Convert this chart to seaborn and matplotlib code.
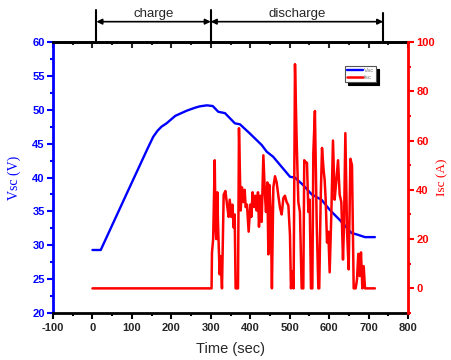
import matplotlib
matplotlib.use("Agg")
import matplotlib.pyplot as plt
import seaborn as sns
import pandas as pd
from matplotlib.ticker import MultipleLocator

# ---- data ----
t_v = [0, 21, 86.7, 140, 154, 165, 175, 188, 210, 239, 260, 272, 290, 305, 319, 336,
       361, 374, 399, 429, 442, 458, 501, 513, 534, 556, 581, 602, 627.5, 657, 670, 691, 716]
v_sc = [29.3, 29.3, 37.6, 44.3, 46.0, 46.9, 47.5, 48.0, 49.1, 49.86, 50.3, 50.5, 50.65, 50.55,
        49.7, 49.5, 48.0, 47.85, 46.5, 44.8, 43.8, 43.07, 40.1, 40.0, 38.9, 37.5, 36.7, 35.2,
        33.7, 31.8, 31.6, 31.2, 31.2]

t_i = [0, 302, 303, 306, 310, 312, 314, 316.6, 318, 320, 322.5, 325, 328.4, 332.7, 337,
       342, 345.3, 348, 352, 354.7, 358, 360.6, 363, 369, 371.5, 375.8, 379, 382.6, 386,
       388.4, 391.8, 396, 400.3, 402.9, 406, 409.6, 413, 416.3, 419.7, 422.2, 425.7, 429,
       433.3, 437.4, 440, 443.4, 446, 448.5, 451.8, 455, 458.6, 462.8, 467, 471.3, 475.5,
       479.7, 484, 488, 492.4, 496.7, 500.8, 503.3, 506.8, 510, 513.5, 517.7, 522, 526,
       530.4, 534.6, 537, 540.6, 543.9, 547.4, 550.7, 554, 557.5, 560, 564, 568.5, 572.7,
       575, 578.6, 582, 586, 588.7, 591.3, 594.7, 598, 601.4, 605.6, 609.8, 614, 618.4,
       622.6, 626.8, 631, 635.2, 637.7, 641.2, 645.5, 649.6, 654, 658, 662.3, 667.3, 670.7,
       674, 677.5, 680.8, 684.3, 687.6, 691, 716]
i_sc = [0, 0, 14.5, 20, 52, 25, 20, 39, 28, 18, 5.7, 13, 0, 38, 39.5,
        33, 29, 36, 29, 34, 24.7, 30, 0, 0, 65, 31.6, 41, 35, 40,
        33, 34, 23, 34, 29, 39, 33, 37.6, 31.6, 39, 25, 37.6, 27,
        54, 37.6, 31, 43, 13.8, 42, 32, 0, 41, 45.5, 43, 37.6, 32.7,
        30, 36.6, 37.6, 35, 33.7, 21.6, 0, 7, 0, 91, 60, 35, 31,
        0, 0, 52, 51, 51, 31, 36, 0, 0, 55, 72, 27, 0,
        0, 36, 57, 48, 44, 36, 18.6, 23, 6.5, 30, 60, 36, 44,
        52, 38, 35, 11.7, 25, 63, 23, 7.7, 52.6, 50, 0, 0, 3.6,
        14, 5, 14.6, 0, 9, 0, 0]

x_ticks = [-100, 0, 100, 200, 300, 400, 500, 600, 700, 800]
v_ticks = [20, 25, 30, 35, 40, 45, 50, 55, 60]
i_ticks = [0, 20, 40, 60, 80, 100]

phase_bounds = [10, 300, 737]
phase_labels = ["charge", "discharge"]

df_v = pd.DataFrame({"t": t_v, "v": v_sc})
df_i = pd.DataFrame({"t": t_i, "i": i_sc})

sns.set_style("ticks")
plt.rcParams["font.family"] = ["Liberation Sans", "DejaVu Sans"]

fig = plt.figure(figsize=(4.51, 3.6), dpi=100)
ax = fig.add_axes([53/451, 47/360, 355/451, 271/360])
ax2 = ax.twinx()

sns.lineplot(data=df_v, x="t", y="v", ax=ax, color="#0000ff", lw=1.7, label="Vsc", legend=False)
sns.lineplot(data=df_i, x="t", y="i", ax=ax2, color="#ff0000", lw=1.8, label="Isc", legend=False)

ax.set_xlim(-100, 800)
ax.set_ylim(20, 60)
ax2.set_ylim(-10, 100)
ax.set_xticks(x_ticks)
ax.set_yticks(v_ticks)
ax2.set_yticks(i_ticks)
ax.xaxis.set_minor_locator(MultipleLocator(50))
ax.yaxis.set_minor_locator(MultipleLocator(2.5))
ax2.yaxis.set_minor_locator(MultipleLocator(10))

bold = dict(fontweight="bold", fontsize=8)
ax.set_xticklabels([str(v) for v in x_ticks], **bold)
ax.set_yticklabels([str(v) for v in v_ticks], color="#0000ff", **bold)
ax2.set_yticklabels([str(v) for v in i_ticks], color="#ff0000", **bold)

ax.tick_params(axis="x", which="both", top=False, direction="out", width=1.5, color="black", pad=3)
ax.tick_params(axis="x", which="major", length=4)
ax.tick_params(axis="x", which="minor", length=2)
ax.tick_params(axis="y", which="both", colors="#0000ff", direction="out", width=1.5, pad=2)
ax.tick_params(axis="y", which="major", length=4)
ax.tick_params(axis="y", which="minor", length=2)
ax2.tick_params(axis="y", which="both", colors="#ff0000", direction="out", width=1.5, pad=2)
ax2.tick_params(axis="y", which="major", length=4)
ax2.tick_params(axis="y", which="minor", length=2)
ax2.tick_params(axis="x", which="both", top=False)
# top ticks inward
secx = ax.secondary_xaxis("top")
secx.set_xticks(x_ticks)
secx.xaxis.set_minor_locator(MultipleLocator(50))
secx.tick_params(axis="x", which="both", direction="in", width=1.5, labeltop=False)
secx.tick_params(axis="x", which="major", length=4)
secx.tick_params(axis="x", which="minor", length=2)
secx.spines["top"].set_linewidth(2)

for s in ["top", "bottom"]:
    ax.spines[s].set_linewidth(2)
    ax.spines[s].set_color("black")
ax.spines["left"].set_color("#0000ff")
ax.spines["left"].set_linewidth(2)
ax2.spines["right"].set_visible(True)
ax2.spines["right"].set_color("#ff0000")
ax2.spines["right"].set_linewidth(2)
ax2.spines["left"].set_visible(False)
ax2.spines["top"].set_visible(False)
ax2.spines["bottom"].set_visible(False)

ax.set_xlabel("Time (sec)", fontsize=10.5, labelpad=7)
ax.set_ylabel("Vsc (V)", fontsize=10, color="#0000ff", family="Liberation Serif", labelpad=8)
ax2.set_ylabel("Isc (A)", fontsize=9.5, color="#ff0000", family="Liberation Serif", labelpad=1, rotation=90)

# phase annotations above the axes
trans = ax.get_xaxis_transform()
for xb, ytop in zip(phase_bounds, [1.118, 1.118, 1.108]):
    ax.plot([xb, xb], [1.0, ytop], transform=trans, color="black", lw=1.5, clip_on=False)
for (x0, x1), lab in zip(zip(phase_bounds[:-1], phase_bounds[1:]), phase_labels):
    ax.annotate("", xy=(x0, 1.075), xytext=(x1, 1.075), xycoords=trans, textcoords=trans,
                arrowprops=dict(arrowstyle="<|-|>", color="black", lw=1.2,
                                mutation_scale=8, shrinkA=0, shrinkB=0))
    ax.text((x0 + x1) / 2, 1.083, lab, transform=trans, ha="center", va="bottom", fontsize=9.5)

handles = ax.get_lines()[:1] + ax2.get_lines()[:1]
leg = ax.legend(handles, ["Vsc", "Isc"], loc="upper left",
                bbox_to_anchor=(345/451, 1 - 66/360), bbox_transform=fig.transFigure,
                fontsize=4.5, frameon=True, fancybox=False, shadow={"color": "black", "alpha": 1},
                handlelength=2.5, handletextpad=0.2, borderpad=0.3, labelspacing=0.2,
                borderaxespad=0)
leg.get_frame().set_edgecolor("#555555")
leg.get_frame().set_linewidth(0.8)
for txt in leg.get_texts():
    txt.set_color("#777777")

fig.savefig("out.png", dpi=100)
